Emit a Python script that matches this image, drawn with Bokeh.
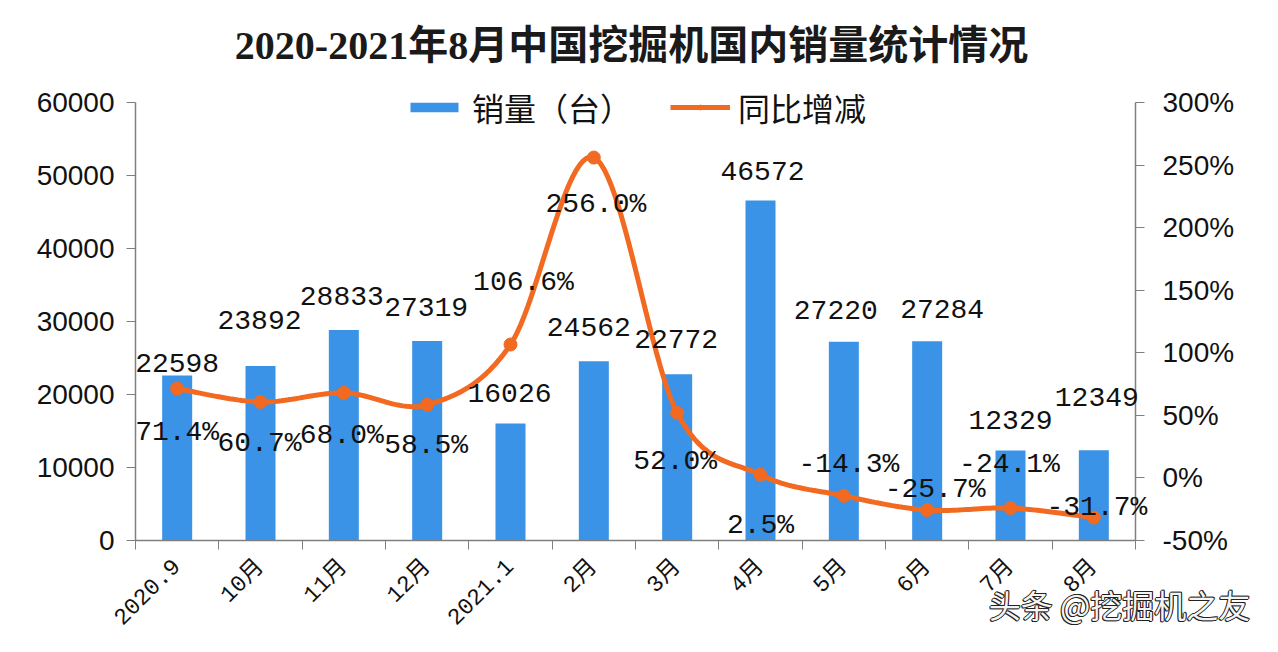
import math
from bokeh.plotting import figure
from bokeh.models import (ColumnDataSource, Range1d, LinearAxis, FixedTicker, LabelSet, Label,
                          Legend, LegendItem, PrintfTickFormatter, CustomJSTickFormatter)
from bokeh.core.properties import value
from bokeh.embed import file_html
from bokeh.resources import INLINE

# ---------------- data ----------------
categories = ["2020.9", "10月", "11月", "12月", "2021.1", "2月", "3月", "4月", "5月", "6月", "7月", "8月"]
sales = [22598, 23892, 28833, 27319, 16026, 24562, 22772, 46572, 27220, 27284, 12329, 12349]
yoy = [71.4, 60.7, 68.0, 58.5, 106.6, 256.0, 52.0, 2.5, -14.3, -25.7, -24.1, -31.7]
sales_ticks = [0, 10000, 20000, 30000, 40000, 50000, 60000]
pct_ticks = [-50, 0, 50, 100, 150, 200, 250, 300]
title_text = "2020-2021年8月中国挖掘机国内销量统计情况"
legend_labels = ["销量（台）", "同比增减"]
credit_text = "头条 @挖掘机之友"

# ---------------- style / layout ----------------
BLUE = "#3A93E6"
ORANGE = "#F26A21"
AXIS = "#7F7F7F"
MONO = "Liberation Mono, Noto Sans CJK SC"
SANS = "Liberation Sans, Noto Sans CJK SC"
W, H = 1262, 636
TOP = 84           # space for the title
PLOT_W, PLOT_H = 1000, 438   # pixel extent of the axes
PAD_L, PAD_R = 135, 127      # frame room left/right of the axes
PAD_T, PAD_B = 18, 96        # frame room above/below the axes
# label nudges in screen pixels (hand placement as in the original)
sales_lbl_dx = [0, -1, -2, -1, -1, -5, -1, 2, -8, 15, 0, 3]
sales_lbl_dy = [13, 46, 34, 34, 31, 34, 35, 30, 32, 32, 30, 53]
yoy_lbl_dx = [0, -1, -2, -1, 13, 2, -2, 0, 5, 8, -1, 3]
yoy_lbl_dy = [-44, -42, -43, -41, 62, -47, -49, -51, 31, 21, 44, 10]

n = len(categories)
xs = [i + 0.5 for i in range(n)]

def padded(lo, hi, span, pad_lo, pad_hi):
    k = (hi - lo) / span
    return Range1d(lo - pad_lo * k, hi + pad_hi * k)

src = ColumnDataSource(dict(
    x=xs, sales=sales, sales_txt=[str(v) for v in sales],
    yoy=yoy, yoy_txt=["%.1f%%" % v for v in yoy],
    s_dx=sales_lbl_dx, s_dy=sales_lbl_dy, y_dx=yoy_lbl_dx, y_dy=yoy_lbl_dy,
))

# smoothed display of the yoy line (cubic Bezier through the data points)
def smooth(px, py, steps=24):
    ox, oy = [], []
    m = len(px)
    for i in range(m - 1):
        x0, y0 = px[i], py[i]
        x3, y3 = px[i + 1], py[i + 1]
        xm, ym = px[max(i - 1, 0)], py[max(i - 1, 0)]
        xp, yp = px[min(i + 2, m - 1)], py[min(i + 2, m - 1)]
        x1, y1 = x0 + (x3 - xm) / 6, y0 + (y3 - ym) / 6
        x2, y2 = x3 - (xp - x0) / 6, y3 - (yp - y0) / 6
        for k in range(steps):
            t = k / steps
            a, b, c, d = (1 - t) ** 3, 3 * t * (1 - t) ** 2, 3 * t * t * (1 - t), t ** 3
            ox.append(a * x0 + b * x1 + c * x2 + d * x3)
            oy.append(a * y0 + b * y1 + c * y2 + d * y3)
    ox.append(px[-1]); oy.append(py[-1])
    return ox, oy

lx, ly = smooth(xs, yoy)

p = figure(width=W, height=H,
           x_range=padded(0, n, PLOT_W, PAD_L, PAD_R),
           y_range=padded(sales_ticks[0], sales_ticks[-1], PLOT_H, PAD_B, PAD_T),
           output_backend="svg", toolbar_location=None,
           min_border_left=0, min_border_right=0, min_border_top=TOP, min_border_bottom=0)
p.extra_y_ranges = {"pct": padded(pct_ticks[0], pct_ticks[-1], PLOT_H, PAD_B, PAD_T)}
p.xgrid.visible = False
p.ygrid.visible = False
p.outline_line_color = None
p.background_fill_color = "white"
p.border_fill_color = "white"

# title
p.title.text = title_text
p.title.align = "center"
p.title.offset = 4
p.title.text_font = "Liberation Serif, Noto Sans CJK SC"
p.title.text_font_size = "40px"
p.title.text_font_style = "bold"
p.title.text_color = "#1a1a1a"
p.title.standoff = 34

bars = p.vbar(x="x", top="sales", width=0.36, source=src, fill_color=BLUE, line_color=None)
line = p.line(lx, ly, y_range_name="pct", line_color=ORANGE, line_width=5)
dots = p.scatter("x", "yoy", source=src, y_range_name="pct", size=13,
                 fill_color=ORANGE, line_color=ORANGE)

# axes
xa = p.xaxis[0]
xa.fixed_location = sales_ticks[0]
xa.bounds = (0, n)
xa.ticker = FixedTicker(ticks=xs, minor_ticks=list(range(n + 1)))
xa.formatter = CustomJSTickFormatter(args=dict(labels=categories),
                                     code="return labels[Math.floor(tick)];")
xa.major_tick_out = 0
xa.major_tick_in = 0
xa.minor_tick_out = 9
xa.minor_tick_in = 0
xa.minor_tick_line_color = AXIS
xa.axis_line_color = AXIS
xa.axis_line_width = 1.5
xa.major_label_orientation = math.pi / 4
xa.major_label_text_font = MONO
xa.major_label_text_font_size = "23px"
xa.major_label_text_color = "#111111"
xa.major_label_standoff = 14

ya = p.yaxis[0]
ya.fixed_location = 0
ya.bounds = (sales_ticks[0], sales_ticks[-1])
ya.ticker = FixedTicker(ticks=sales_ticks)
ya.formatter = PrintfTickFormatter(format="%d")
ya.major_tick_out = 9
ya.major_tick_in = 0
ya.minor_tick_out = 0
ya.minor_tick_in = 0
ya.axis_line_color = AXIS
ya.axis_line_width = 1.5
ya.major_tick_line_color = AXIS
ya.major_label_text_font = SANS
ya.major_label_text_font_size = "28px"
ya.major_label_text_color = "#111111"
ya.major_label_standoff = 12

ra = LinearAxis(y_range_name="pct", ticker=FixedTicker(ticks=pct_ticks),
                formatter=PrintfTickFormatter(format="%d%%"),
                bounds=(pct_ticks[0], pct_ticks[-1]), fixed_location=n)
ra.major_tick_out = 9
ra.major_tick_in = 0
ra.minor_tick_out = 0
ra.minor_tick_in = 0
ra.axis_line_color = AXIS
ra.axis_line_width = 1.5
ra.major_tick_line_color = AXIS
ra.major_label_text_font = SANS
ra.major_label_text_font_size = "28px"
ra.major_label_text_color = "#111111"
ra.major_label_standoff = 18
p.add_layout(ra, "right")

# data labels
p.add_layout(LabelSet(x="x", y="sales", text="sales_txt", source=src,
                      x_offset="s_dx", y_offset="s_dy",
                      text_align="center", text_baseline="middle",
                      text_font=value(MONO), text_font_size=value("28px"),
                      text_color="#111111"))
p.add_layout(LabelSet(x="x", y="yoy", text="yoy_txt", source=src, y_range_name="pct",
                      x_offset="y_dx", y_offset="y_dy",
                      text_align="center", text_baseline="middle",
                      text_font=value(MONO), text_font_size=value("28px"),
                      text_color="#111111"))

# legend (inside the frame, straddling the top of the value axes)
legend = Legend(items=[LegendItem(label=legend_labels[0], renderers=[bars]),
                       LegendItem(label=legend_labels[1], renderers=[line, dots])],
                orientation="horizontal", location=(404, PAD_B + PLOT_H - 28),
                glyph_width=60, glyph_height=12, label_standoff=8, spacing=38,
                padding=0, margin=0, border_line_color=None, background_fill_alpha=0,
                label_text_font="Noto Sans CJK SC", label_text_font_size="32px",
                label_text_color="#111111", label_height=36)
p.add_layout(legend, "center")

# credit mark at bottom right
CX, CY = 10.24, -8700
for dx, dy in [(-1, 0), (1, 0), (0, -1), (0, 1), (-1, -1), (1, 1)]:
    p.add_layout(Label(x=CX, y=CY, text=credit_text, x_offset=dx, y_offset=dy,
                       text_font="Noto Sans CJK SC", text_font_size="32px",
                       text_color="#222222", text_baseline="middle"))
p.add_layout(Label(x=CX, y=CY, text=credit_text,
                   text_font="Noto Sans CJK SC", text_font_size="32px",
                   text_color="#f4f4f4", text_baseline="middle"))

open("out.html", "w").write(file_html(p, INLINE))
